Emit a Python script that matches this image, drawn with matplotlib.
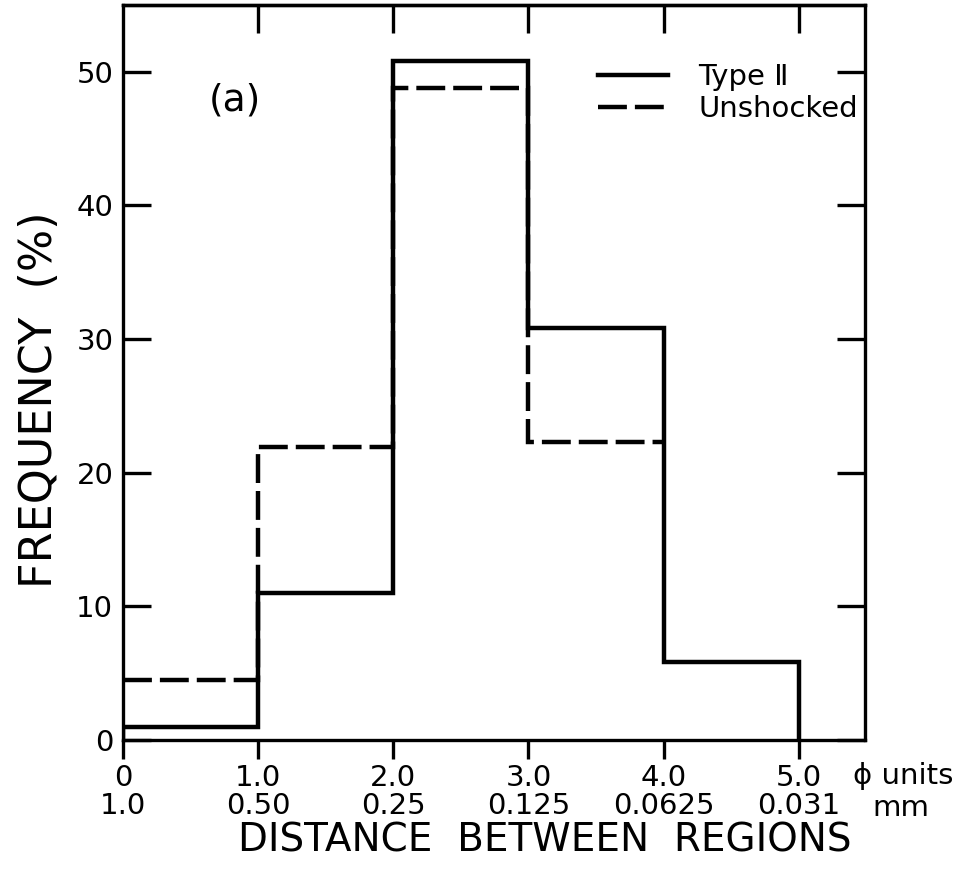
import matplotlib
matplotlib.use("Agg")
import matplotlib.pyplot as plt
import numpy as np

plt.rcParams['font.family'] = ['DejaVu Sans']

# Data
phi_edges = [0, 1, 2, 3, 4, 5]
type2 = [1.0, 11.0, 50.8, 30.8, 5.8]
unshocked = [4.5, 21.9, 48.8, 22.3]
phi_labels = ["0", "1.0", "2.0", "3.0", "4.0", "5.0"]
mm_labels = ["1.0", "0.50", "0.25", "0.125", "0.0625", "0.031"]
yticks = [0, 10, 20, 30, 40, 50]

W, H = 964, 875
fig = plt.figure(figsize=(W / 100, H / 100), dpi=100)
ax = fig.add_axes([123 / W, 1 - 740 / H, (865 - 123) / W, (740 - 5) / H])

ax.stairs(type2, phi_edges, baseline=0, color='black', lw=3.2,
          label="Type Ⅱ", zorder=3)
ax.stairs(unshocked, phi_edges[:len(unshocked) + 1], baseline=None,
          color='black', lw=3.2, linestyle=(0, (6.5, 1.8)),
          label="Unshocked", zorder=2)

ax.set_xlim(0, 5.49)
ax.set_ylim(0, 55)

for s in ax.spines.values():
    s.set_linewidth(2.4)

ax.set_yticks(yticks)
ax.set_yticklabels([str(v) for v in yticks], fontsize=21)
ax.tick_params(axis='y', direction='in', left=True, right=True,
               length=20, width=2.4, pad=7)

ax.set_xticks(phi_edges)
ax.set_xticklabels([f"{a}\n{b}" for a, b in zip(phi_labels, mm_labels)],
                   fontsize=21, linespacing=1.0)
ax.tick_params(axis='x', direction='out', length=14, width=2.4, pad=3)

sec = ax.secondary_xaxis('top')
sec.set_xticks(phi_edges[1:])
sec.set_xticklabels([])
sec.tick_params(direction='in', length=20, width=2.4)
sec.spines['top'].set_linewidth(2.4)

fig.text(853 / W, 1 - 776 / H, "ϕ units", fontsize=21, va='center', ha='left')
fig.text(872 / W, 1 - 808 / H, "mm", fontsize=21, va='center', ha='left')

fig.text(545 / W, 1 - 841 / H, "DISTANCE  BETWEEN  REGIONS", fontsize=28,
         ha='center', va='center')
fig.text(40 / W, 1 - 400 / H, "FREQUENCY  (%)", fontsize=32, rotation=90,
         ha='center', va='center')

ax.text(235 / W, 1 - 100 / H, "(a)", fontsize=27, transform=fig.transFigure,
        ha='center', va='center')

leg = ax.legend(loc='upper left', bbox_to_anchor=(598 / W, 1 - 63 / H),
                bbox_transform=fig.transFigure, frameon=False, fontsize=21,
                handlelength=2.4, handletextpad=1.05, labelspacing=0.15,
                borderpad=0, borderaxespad=0)

fig.savefig("out.png", dpi=100)
